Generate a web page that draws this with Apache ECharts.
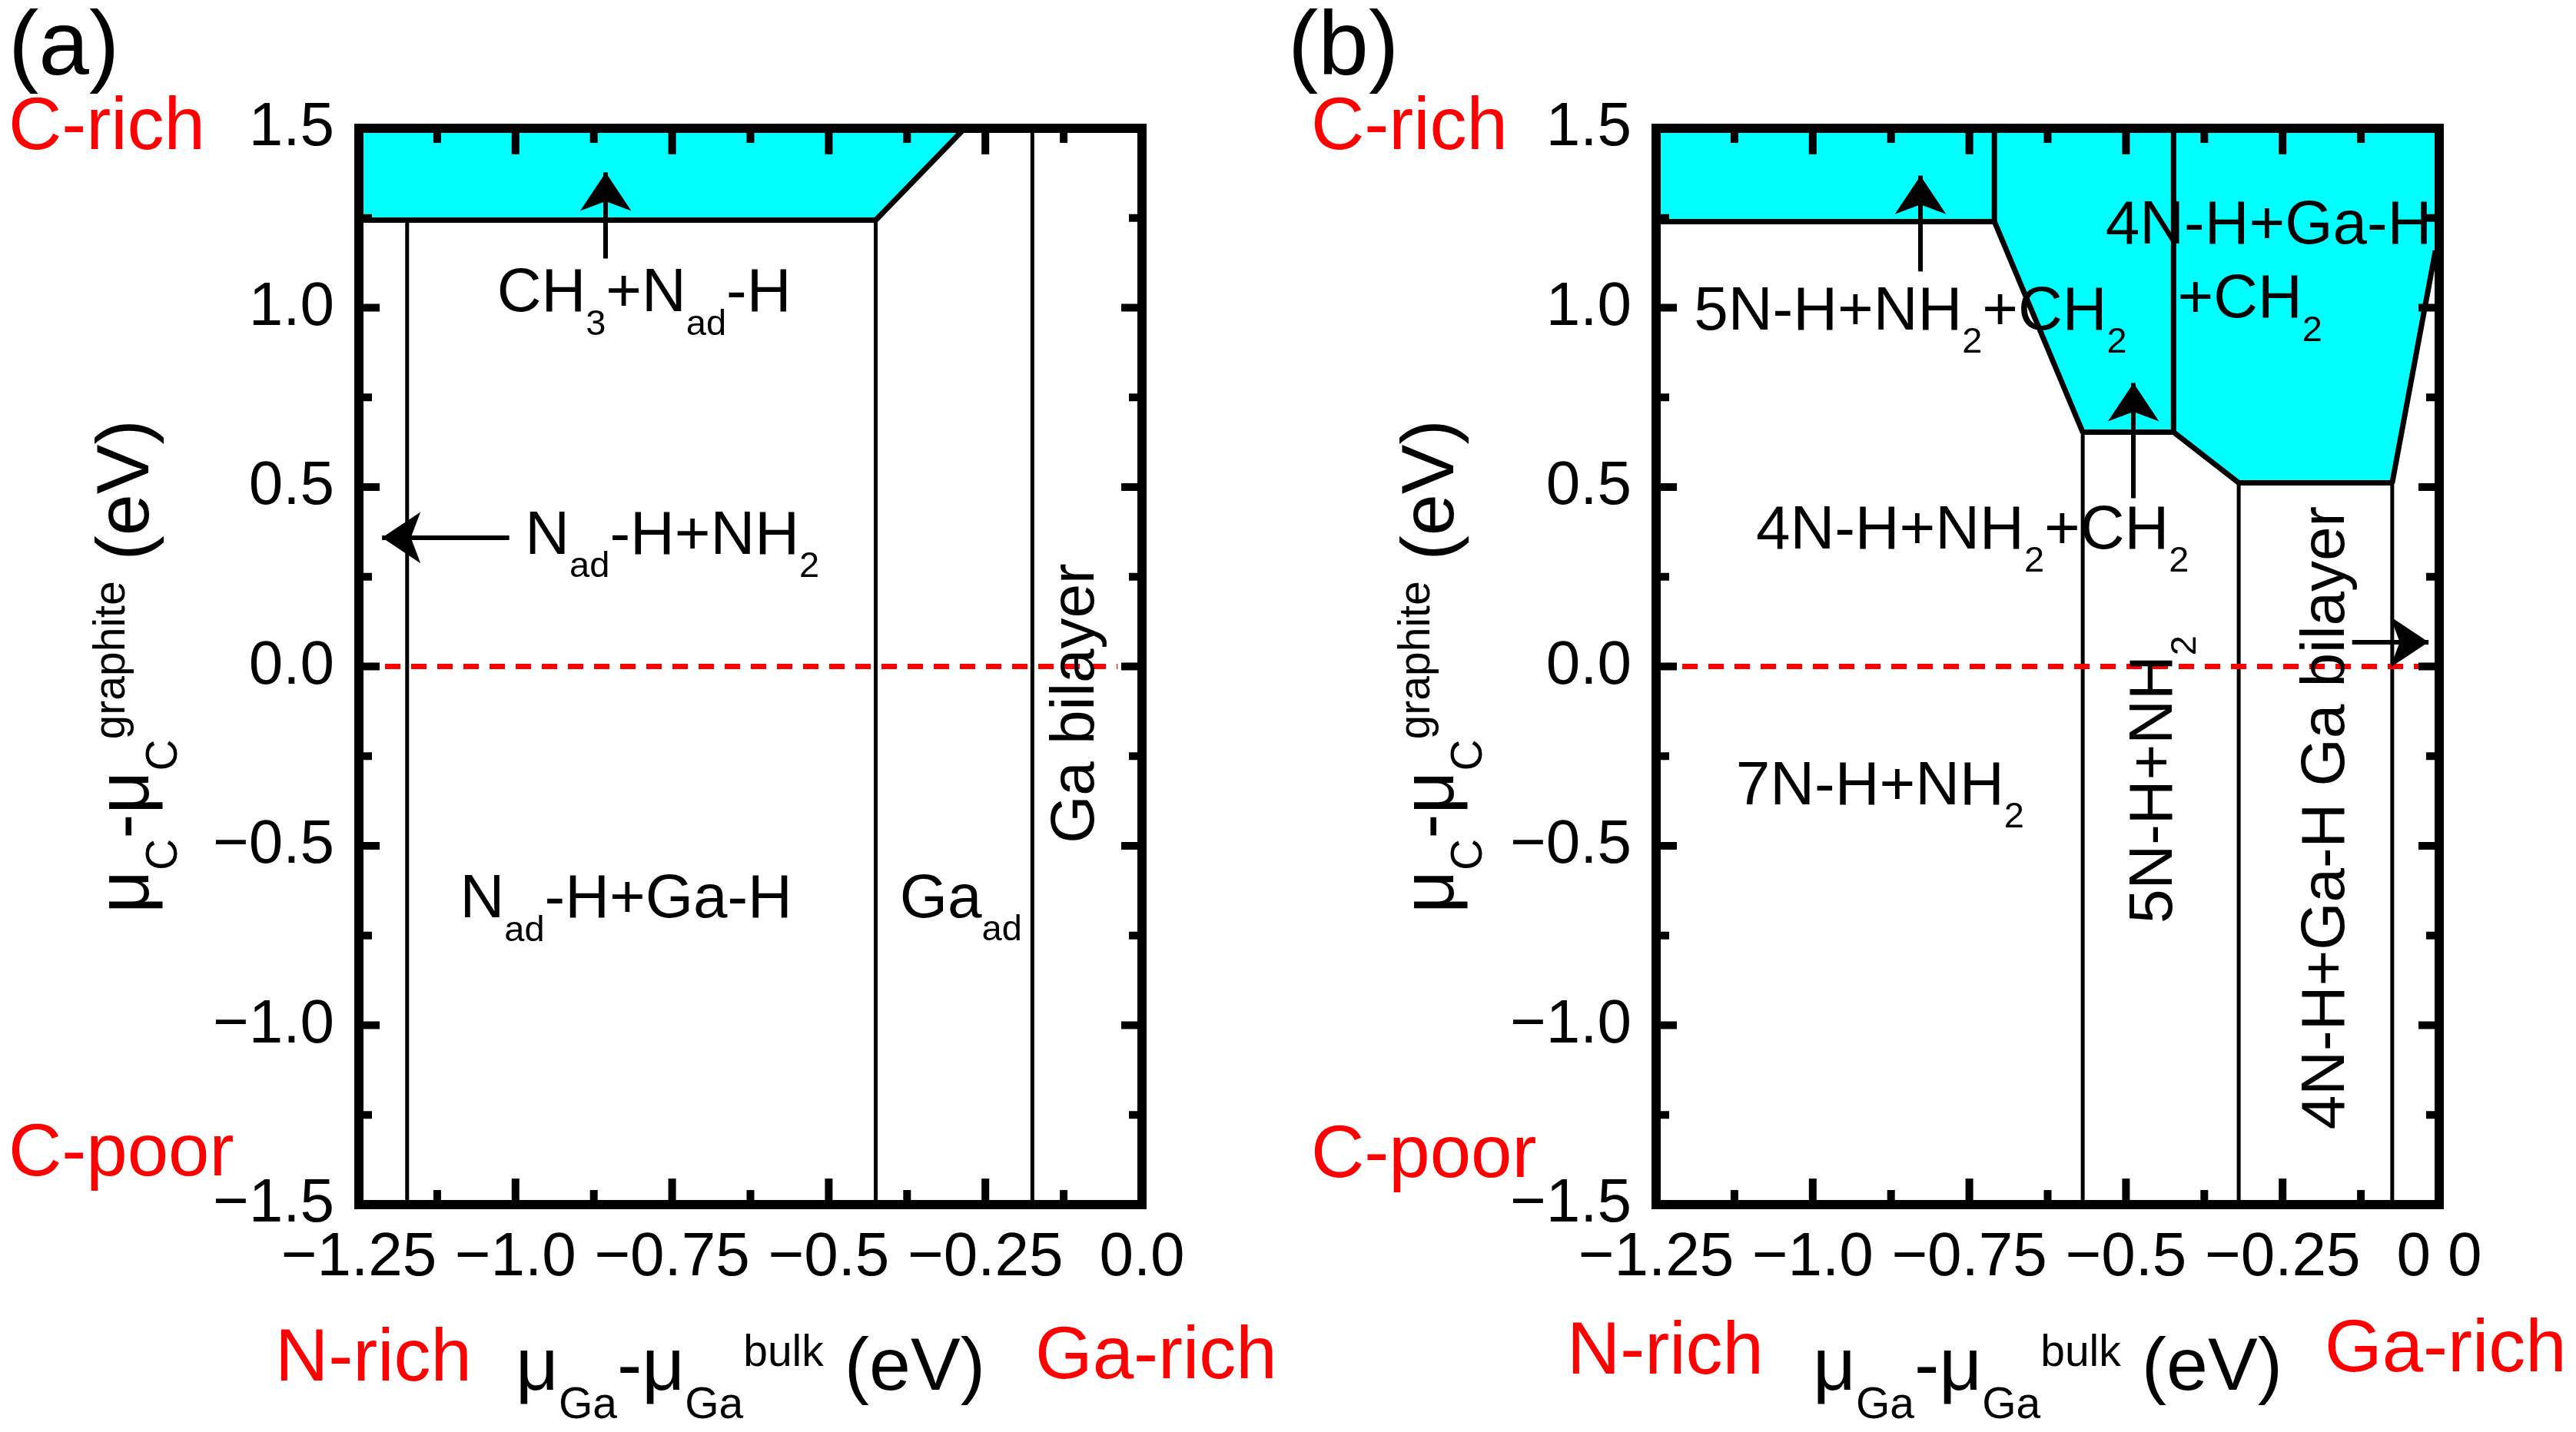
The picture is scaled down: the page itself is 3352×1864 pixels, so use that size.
<!DOCTYPE html>
<html>
<head>
<meta charset="utf-8">
<script src="https://cdn.jsdelivr.net/npm/echarts@6/dist/echarts.min.js"></script>
<style>
  html, body { margin: 0; padding: 0; background: #fff; }
  #chart { width: 3352px; height: 1864px; }
</style>
</head>
<body>
<div id="chart"></div>
<script>
const FONT = "'Liberation Sans', Arial, Helvetica, sans-serif";
const CYAN = "#00ffff";
const RED = "#ff0000";

// Both panels share the same window: mu_Ga on x, mu_C on y.
const X_MIN = -1.25, X_MAX = 0, X_STEP = 0.25;
const Y_MIN = -1.5, Y_MAX = 1.5, Y_STEP = 0.5;
const xTickLabelsA = ["\u22121.25", "\u22121.0", "\u22120.75", "\u22120.5", "\u22120.25", "0.0"];
const xTickLabelsB = ["\u22121.25", "\u22121.0", "\u22120.75", "\u22120.5", "\u22120.25", "0 0"];
const yTickLabels = ["\u22121.5", "\u22121.0", "\u22120.5", "0.0", "0.5", "1.0", "1.5"];

// ---- panel (a) ----
const stableA = [[-1.25, 1.5], [-0.283, 1.5], [-0.425, 1.244], [-1.25, 1.244]];
const regionEdgesA = [
  [[-1.25, 1.244], [-0.425, 1.244], [-0.283, 1.5]],
];
const phaseLinesA = [
  [[-1.173, 1.244], [-1.173, -1.5]],
  [[-0.425, 1.244], [-0.425, -1.5]],
  [[-0.175, 1.5], [-0.175, -1.5]],
];
const zeroLineA = [[-1.25, 0], [-0.039, 0]];
const arrowsA = [
  [[-0.856, 1.137], [-0.856, 1.377]],
  [[-1.01, 0.359], [-1.213, 0.359]],
];
const labelsA = [
  [-1.029, 1.036, "{m|CH}{s|3}{m|+N}{s|ad}{m|-H}"],
  [-0.984, 0.36, "{m|N}{s|ad}{m|-H+NH}{s|2}"],
  [-1.088, -0.654, "{m|N}{s|ad}{m|-H+Ga-H}"],
  [-0.386, -0.652, "{m|Ga}{s|ad}"],
];
const verticalLabelsA = [
  [-0.09, -0.104, "{m|Ga bilayer}"],
];

// ---- panel (b) ----
const stableB = [
  [-1.25, 1.5], [0, 1.5], [0, 1.16], [-0.006, 1.159], [-0.075, 0.512],
  [-0.32, 0.512], [-0.424, 0.653], [-0.569, 0.653], [-0.71, 1.24], [-1.25, 1.24],
];
const regionEdgesB = [
  [[-1.25, 1.24], [-0.71, 1.24], [-0.569, 0.653], [-0.424, 0.653], [-0.32, 0.512], [-0.075, 0.512], [-0.006, 1.159]],
  [[-0.71, 1.24], [-0.71, 1.5]],
  [[-0.424, 0.653], [-0.424, 1.5]],
];
const phaseLinesB = [
  [[-0.569, 0.653], [-0.569, -1.5]],
  [[-0.32, 0.512], [-0.32, -1.5]],
  [[-0.075, 0.512], [-0.075, -1.5]],
];
const zeroLineB = [[-1.25, 0], [-0.027, 0]];
const arrowsB = [
  [[-0.828, 1.101], [-0.828, 1.368]],
  [[-0.488, 0.469], [-0.488, 0.79]],
  [[-0.139, 0.068], [-0.017, 0.068]],
];
const labelsB = [
  [-1.189, 0.985, "{m|5N-H+NH}{s|2}{m|+CH}{s|2}"],
  [-0.532, 1.226, "{m|4N-H+Ga-H}"],
  [-0.417, 1.019, "{m|+CH}{s|2}"],
  [-1.09, 0.375, "{m|4N-H+NH}{s|2}{m|+CH}{s|2}"],
  [-1.122, -0.338, "{m|7N-H+NH}{s|2}"],
];
const verticalLabelsB = [
  [-0.439, -0.316, "{m|5N-H+NH}{s|2}"],
  [-0.164, -0.423, "{m|4N-H+Ga-H Ga bilayer}"],
];

const X_TITLE = "{m|\u03bc}{s|Ga}{m|-\u03bc}{s|Ga}{u|bulk}{m| (eV)}";
const Y_TITLE = "{m|\u03bc}{s|C}{m|-\u03bc}{s|C}{u|graphite}{m| (eV)}";

// zrender places a "top" token by its font height and a "bottom" token against
// the line box, whose height is the largest token lineHeight. So the main run is
// pinned to the top with a tall lineHeight, subscripts drop to the bottom of
// that box and superscripts stay at the top.
const LABEL_RICH = {
  m: { fontFamily: FONT, fontSize: 80, lineHeight: 103, verticalAlign: "top", color: "#000", textBorderWidth: 0 },
  s: { fontFamily: FONT, fontSize: 47, lineHeight: 47, verticalAlign: "bottom", color: "#000", textBorderWidth: 0 },
};
const TITLE_RICH = {
  m: { fontFamily: FONT, fontSize: 97, lineHeight: 125, verticalAlign: "top", color: "#000" },
  s: { fontFamily: FONT, fontSize: 57, lineHeight: 57, verticalAlign: "bottom", color: "#000" },
  u: { fontFamily: FONT, fontSize: 57, lineHeight: 57, verticalAlign: "top", color: "#000" },
};

const GRID_W = 1019, GRID_H = 1406;
const frameStyle = { color: "#000", width: 12, cap: "square" };

// The axes draw the frame, labels and titles; the inward ticks are drawn as
// short line series further down.
function frameAxis(dim, gridIndex, position, extra = {}) {
  const x = dim === "x";
  return {
    type: "value", gridIndex, position, z: 3,
    min: x ? X_MIN : Y_MIN, max: x ? X_MAX : Y_MAX, interval: x ? X_STEP : Y_STEP,
    axisLine: { show: true, onZero: false, lineStyle: frameStyle },
    axisTick: { show: false },
    splitLine: { show: false },
    axisLabel: { show: false },
    ...extra,
  };
}

function panelAxes(g, xLabels, yNameGap) {
  return {
    xs: [
      frameAxis("x", g, "bottom", {
        axisLabel: {
          show: true, margin: 30, fontFamily: FONT, fontSize: 80, color: "#000",
          showMinLabel: true, showMaxLabel: true,
          formatter: (v) => xLabels[Math.round((v - X_MIN) / X_STEP)],
        },
        name: X_TITLE, nameLocation: "middle", nameGap: 166,
        nameTextStyle: { color: "#000", rich: TITLE_RICH },
      }),
      frameAxis("x", g, "top"),
    ],
    ys: [
      frameAxis("y", g, "left", {
        axisLabel: {
          show: true, margin: 32, fontFamily: FONT, fontSize: 80, color: "#000",
          showMinLabel: true, showMaxLabel: true,
          formatter: (v) => yTickLabels[Math.round((v - Y_MIN) / Y_STEP)],
        },
        name: Y_TITLE, nameLocation: "middle", nameRotate: 90, nameGap: yNameGap,
        nameTextStyle: { color: "#000", rich: TITLE_RICH },
      }),
      frameAxis("y", g, "right"),
    ],
  };
}

// Inward ticks on all four sides: majors on the label step, one minor between.
// Lengths are pixels from the frame centre, turned into data units of the grid.
const TICK_PX = { xMajor: 34, xMinor: 19, yMajor: 27, yMinor: 17 };
function tickSegments() {
  const perPxX = (X_MAX - X_MIN) / GRID_W;
  const perPxY = (Y_MAX - Y_MIN) / GRID_H;
  const segs = [];
  const nx = Math.round((X_MAX - X_MIN) / (X_STEP / 2));
  for (let i = 1; i < nx; i++) {
    const v = X_MIN + (i * X_STEP) / 2;
    const d = (i % 2 ? TICK_PX.xMinor : TICK_PX.xMajor) * perPxY;
    segs.push([[v, Y_MIN], [v, Y_MIN + d]], [[v, Y_MAX], [v, Y_MAX - d]]);
  }
  const ny = Math.round((Y_MAX - Y_MIN) / (Y_STEP / 2));
  for (let i = 1; i < ny; i++) {
    const v = Y_MIN + (i * Y_STEP) / 2;
    const d = (i % 2 ? TICK_PX.yMinor : TICK_PX.yMajor) * perPxX;
    segs.push([[X_MIN, v], [X_MIN + d, v]], [[X_MAX, v], [X_MAX - d, v]]);
  }
  return segs;
}

function panelSeries(xi, yi, p) {
  const ax = { xAxisIndex: xi, yAxisIndex: yi, silent: true };
  const polyline = (pts, width, extra = {}, z = 2) => ({
    ...ax, type: "line", data: pts, symbol: "none", z,
    lineStyle: { color: "#000", width, ...extra },
  });
  return [
    {
      ...ax, type: "custom", z: 1, data: [0],
      renderItem: (params, api) => ({
        type: "polygon",
        shape: { points: p.stable.map((pt) => api.coord(pt)) },
        style: { fill: CYAN },
      }),
    },
    ...p.edges.map((pts) => polyline(pts, 7)),
    ...p.phases.map((pts) => polyline(pts, 5)),
    polyline(p.zero, 7, { color: RED, type: [20, 14] }),
    ...tickSegments().map((pts) => polyline(pts, 10, {}, 6)),
    {
      ...ax, type: "lines", coordinateSystem: "cartesian2d", z: 4,
      symbol: ["none", "arrow"], symbolSize: 50,
      lineStyle: { color: "#000", width: 6, opacity: 1 },
      data: p.arrows.map((c) => ({ coords: c })),
    },
    {
      ...ax, type: "scatter", z: 5, symbolSize: 1,
      itemStyle: { color: "rgba(0,0,0,0)" },
      data: p.labels.map(([x, y, t]) => ({ value: [x, y], text: t })),
      label: {
        show: true, position: [0, -40], align: "left", verticalAlign: "top",
        color: "#000", textBorderWidth: 0, opacity: 1,
        formatter: (d) => d.data.text, rich: LABEL_RICH,
      },
    },
    {
      ...ax, type: "scatter", z: 5, symbolSize: 1,
      itemStyle: { color: "rgba(0,0,0,0)" },
      data: p.vlabels.map(([x, y, t]) => ({ value: [x, y], text: t })),
      label: {
        show: true, position: [0, 0], align: "center", verticalAlign: "middle", rotate: 90,
        color: "#000", textBorderWidth: 0, opacity: 1,
        formatter: (d) => d.data.text, rich: LABEL_RICH,
      },
    },
  ];
}

function sideText(text, x, y, size, color) {
  return {
    type: "text", x, y, z: 10,
    style: { text, fill: color, fontFamily: FONT, fontSize: size, align: "left", verticalAlign: "middle" },
  };
}

const axesA = panelAxes(0, xTickLabelsA, 224);
const axesB = panelAxes(1, xTickLabelsB, 214);

const option = {
  animation: false,
  backgroundColor: "#fff",
  grid: [
    { left: 467, top: 167, width: GRID_W, height: GRID_H },
    { left: 2155, top: 167, width: GRID_W, height: GRID_H },
  ],
  xAxis: [...axesA.xs, ...axesB.xs],
  yAxis: [...axesA.ys, ...axesB.ys],
  series: [
    ...panelSeries(0, 0, { stable: stableA, edges: regionEdgesA, phases: phaseLinesA, zero: zeroLineA, arrows: arrowsA, labels: labelsA, vlabels: verticalLabelsA }),
    ...panelSeries(2, 2, { stable: stableB, edges: regionEdgesB, phases: phaseLinesB, zero: zeroLineB, arrows: arrowsB, labels: labelsB, vlabels: verticalLabelsB }),
  ],
  graphic: [
    sideText("(a)", 11, 64, 118, "#000"),
    sideText("(b)", 1676, 64, 118, "#000"),
    sideText("C-rich", 11, 168, 96, RED),
    sideText("C-poor", 11, 1504, 96, RED),
    sideText("N-rich", 358, 1771, 96, RED),
    sideText("Ga-rich", 1347, 1768, 96, RED),
    sideText("C-rich", 1706, 168, 96, RED),
    sideText("C-poor", 1706, 1506, 96, RED),
    sideText("N-rich", 2039, 1762, 96, RED),
    sideText("Ga-rich", 3025, 1759, 96, RED),
  ],
};

const chart = echarts.init(document.getElementById("chart"));
chart.setOption(option);
window.addEventListener("resize", () => chart.resize());
</script>
</body>
</html>
